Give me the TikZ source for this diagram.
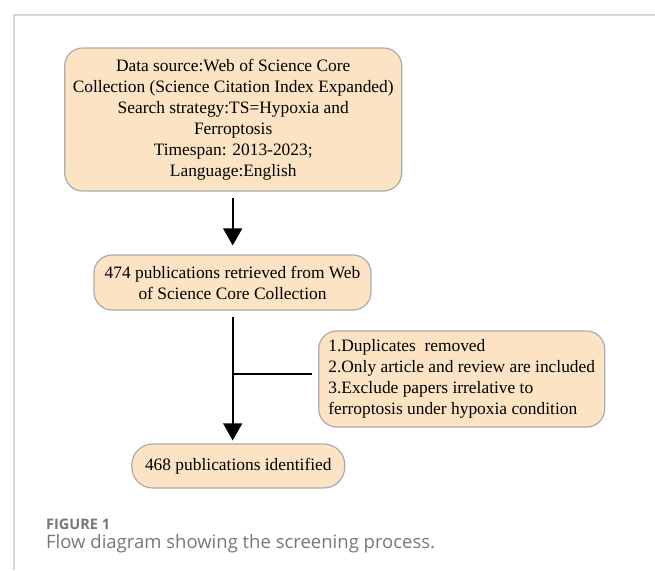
\documentclass[tikz,border=0pt]{standalone}
\usepackage{fontspec}
\setmainfont{Liberation Serif}
\newfontfamily\capfont{Open Sans}
\usetikzlibrary{arrows.meta}
\definecolor{boxfill}{HTML}{FCE3C3}
\definecolor{boxline}{HTML}{ABABAB}
\definecolor{frameline}{HTML}{D8D8D8}
\definecolor{capgray}{HTML}{777777}
\tikzset{
  flowbox/.style={draw=boxline, line width=1.2pt, fill=boxfill, rounded corners=18pt,
    inner sep=0pt, font=\fontsize{17.4}{21}\selectfont},
  flowarrow/.style={line width=1.6pt, -{Triangle[width=19pt,length=17pt]}},
  flowline/.style={line width=1.6pt},
}
\begin{document}
\begin{tikzpicture}[x=1pt,y=-1pt]
\useasboundingbox (0,0) rectangle (655,570);
\draw[frameline, line width=1.5pt] (14,570) -- (14,15) -- (655,15);
\node[flowbox, minimum width=337pt, minimum height=143pt, align=center] (src) at (233.2,119.5)
  {Data source:Web of Science Core\\Collection (Science Citation Index Expanded)\\Search strategy:TS=Hypoxia and\\Ferroptosis\\Timespan: 2013-2023;\\Language:English};
\node[flowbox, minimum width=277pt, minimum height=55pt, align=center] (ret) at (232.5,282.5)
  {474 publications retrieved from Web\\of Science Core Collection};
\node[flowbox, minimum width=286pt, minimum height=96pt, align=left] (exc) at (461.7,379)
  {1.Duplicates\ \ removed\\2.Only article and review are included\\3.Exclude papers irrelative to\\ferroptosis under hypoxia condition};
\node[flowbox, rounded corners=21pt, minimum width=213pt, minimum height=44pt] (idf) at (238.3,466)
  {468 publications identified};
\draw[flowarrow, shorten <=6pt, shorten >=9pt] (src.south -| 232.7,0) -- (ret.north -| 232.7,0);
\draw[flowarrow, shorten <=6pt, shorten >=3pt] (ret.south -| 232.7,0) -- (idf.north -| 232.7,0);
\coordinate (j) at (232.7,374);
\draw[flowline, shorten >=6pt] (j) -- (j -| exc.west);
\node[anchor=west, inner sep=0pt, text=capgray, font=\capfont\fontsize{14.5}{16}\selectfont\bfseries] (fig) at (46,524) {FIGURE 1};
\node[anchor=west, inner sep=0pt, text=capgray, font=\capfont\fontsize{18.5}{22}\selectfont] (cap) at (46,544) {Flow diagram showing the screening process.};
\end{tikzpicture}
\end{document}
